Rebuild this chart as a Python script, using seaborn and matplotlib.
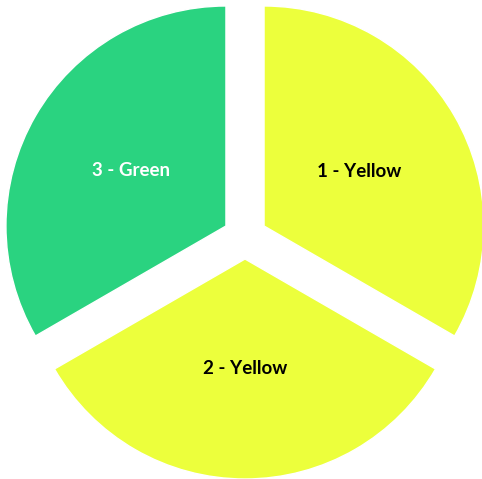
import numpy as np
import seaborn as sns
import matplotlib.pyplot as plt

# slices, clockwise from the top
labels = ["1 - Yellow", "2 - Yellow", "3 - Green"]
values = [1, 1, 1]
colors = ["#ECFF3C", "#ECFF3C", "#2AD380"]
text_colors = ["black", "black", "white"]

sns.set_style("white")
plt.rcParams['font.family'] = ['Lato', 'DejaVu Sans']

fig = plt.figure(figsize=(4.82, 4.79), dpi=100)
ax = fig.add_axes([0, 0, 1, 1])

wedges, texts = ax.pie(values, labels=labels, colors=colors, startangle=90,
                       counterclock=False, explode=[0.1, 0.1, 0.1],
                       labeldistance=0.5,
                       textprops={'fontsize': 13.5, 'fontweight': 'bold'})
for t, c in zip(texts, text_colors):
    t.set_ha('center')
    t.set_va('center')
    t.set_color(c)

# 220 px per unit radius, centre at (245, 237) px from top-left
ax.set_xlim(-245 / 220, (482 - 245) / 220)
ax.set_ylim(-(479 - 237) / 220, 237 / 220)
ax.set_aspect('auto')
ax.axis('off')

fig.savefig("out.png", dpi=100)
